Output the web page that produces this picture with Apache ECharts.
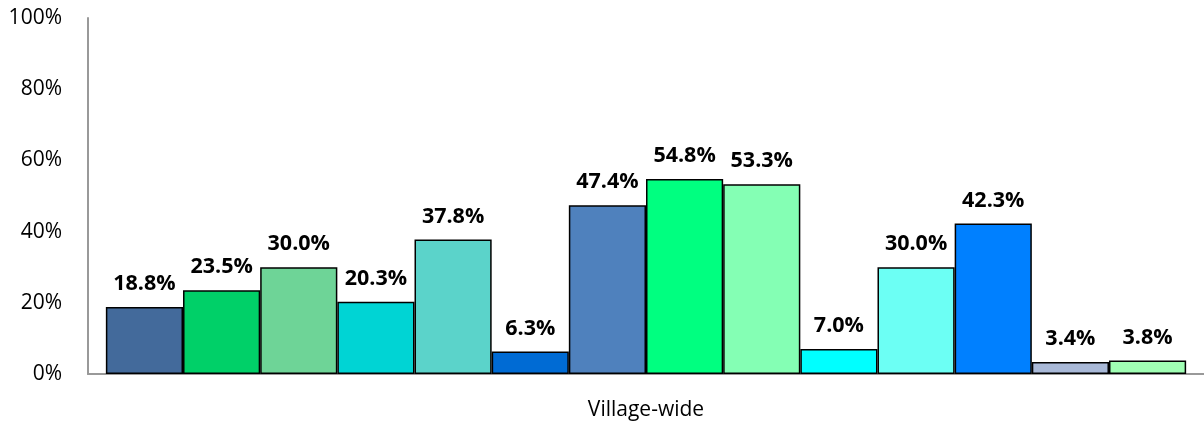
<!DOCTYPE html>
<html><head><meta charset="utf-8">
<script src="https://cdn.jsdelivr.net/npm/echarts@6/dist/echarts.min.js"></script>
<style>html,body{margin:0;padding:0;background:#fff}#c{width:1204px;height:421px}</style>
</head><body><div id="c"></div>
<script>
const categories = ["Village-wide"];
const values = [18.8, 23.5, 30.0, 20.3, 37.8, 6.3, 47.4, 54.8, 53.3, 7.0, 30.0, 42.3, 3.4, 3.8];
const colors = ["#436A9B", "#00D068", "#6ED497", "#00D4D4", "#5BD3CA", "#006BD4", "#4F81BD", "#00FF80", "#84FFB4", "#00FFFF", "#6CFFF4", "#0080FF", "#A9B9D8", "#A0FFB4"];
const yTicks = [0, 20, 40, 60, 80, 100];

const font = "'Open Sans', 'Liberation Sans', sans-serif";
const series = values.map((v, i) => ({
  type: 'bar',
  name: 'S' + (i + 1),
  data: [v],
  barGap: '0%',
  barCategoryGap: '3.2%',
  itemStyle: { color: colors[i], borderColor: '#000', borderWidth: 1.5 },
  label: {
    show: true, position: 'top', distance: 12,
    formatter: p => p.value.toFixed(1) + '%',
    fontFamily: font, fontWeight: 'bold', fontSize: 21.5, color: '#000'
  }
}));

const chart = echarts.init(document.getElementById('c'), null, { renderer: 'canvas' });
chart.setOption({
  animation: false,
  grid: { left: 88, right: 0, top: 18, bottom: 47, containLabel: false },
  xAxis: {
    type: 'category', data: categories,
    axisLine: { show: true, lineStyle: { color: '#999', width: 2 } },
    axisTick: { show: false },
    axisLabel: { fontFamily: font, fontSize: 21, color: '#000', margin: 26 }
  },
  yAxis: {
    type: 'value', min: yTicks[0], max: yTicks[yTicks.length - 1], interval: 20,
    axisLine: { show: true, lineStyle: { color: '#999', width: 2 } },
    axisTick: { show: false },
    splitLine: { show: false },
    axisLabel: { fontFamily: font, fontSize: 21, color: '#000', margin: 26, formatter: v => v + '%' }
  },
  series: series
});
</script></body></html>
